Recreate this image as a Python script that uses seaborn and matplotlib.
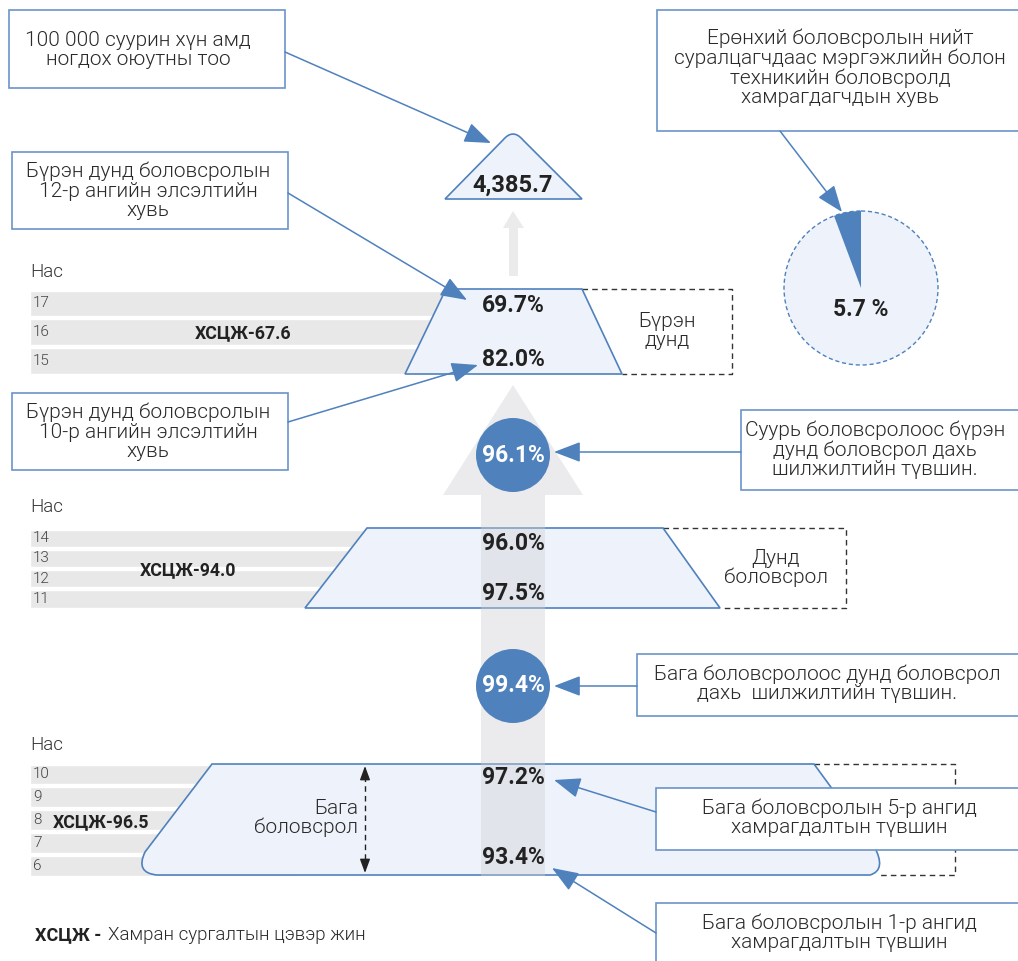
import matplotlib
matplotlib.use("Agg")
import matplotlib.pyplot as plt
import seaborn as sns
from matplotlib.patches import Polygon, Rectangle, Circle, Wedge, PathPatch
from matplotlib.path import Path

# --- DATA ---
ages_primary = ["10", "9", "8", "7", "6"]
ages_lower = ["14", "13", "12", "11"]
ages_upper = ["17", "16", "15"]
net_enrolment = [96.5, 94.0, 67.6]          # primary, lower sec, upper sec
primary_rates = [97.2, 93.4]                 # grade 5, grade 1
lower_rates = [96.0, 97.5]
upper_rates = [69.7, 82.0]                   # grade 12, grade 10
transition_rates = [99.4, 96.1]              # primary->lower, basic->upper
students_per_100k = 4385.7
tvet_share = 5.7
level_names = ["Бага\nболовсрол", "Дунд\nболовсрол", "Бүрэн\nдунд"]
callouts = [
    "100 000 суурин хүн амд\nногдох оюутны тоо",
    "Бүрэн дунд боловсролын\n12-р ангийн элсэлтийн\nхувь",
    "Бүрэн дунд боловсролын\n10-р ангийн элсэлтийн\nхувь",
    "Ерөнхий боловсролын нийт\nсуралцагчдаас мэргэжлийн болон\nтехникийн боловсролд\nхамрагдагчдын хувь",
    "Суурь боловсролоос бүрэн\nдунд боловсрол дахь\nшилжилтийн түвшин.",
    "Бага боловсролоос дунд боловсрол\nдахь  шилжилтийн түвшин.",
    "Бага боловсролын 5-р ангид\nхамрагдалтын түвшин",
    "Бага боловсролын 1-р ангид\nхамрагдалтын түвшин",
]

# --- STYLE ---
sns.set_theme(style="white")
plt.rcParams["font.family"] = ["Roboto", "DejaVu Sans"]
BLUE = "#4f81bd"
EDGE = "#6b93c9"
FILL = "#eef3fb"
BAR = "#e8e8e8"
TXT = "#222222"
LABEL = "#2a2a2a"
LIGHT = 300

fig = plt.figure(figsize=(10.18, 9.61), dpi=100)
ax = fig.add_axes([0, 0, 1, 1])
ax.set_xlim(0, 1018)
ax.set_ylim(961, 0)
ax.axis("off")


def age_rows(labels, top, bottom, right, title_y, net, net_xy):
    n = len(labels)
    h = (bottom - top) / n
    ys = [top + h * (i + 0.5) for i in range(n)]
    ax.barh(ys, [right - 30] * n, left=30, height=h - 3, color=BAR, zorder=1)
    for lab, y in zip(labels, ys):
        ax.text(33, y, lab, fontsize=11, color="#444444", va="center",
                ha="left", fontweight=LIGHT, zorder=5)
    ax.text(30, title_y, "Нас", fontsize=13.5, color="#333333", va="center",
            fontweight=LIGHT)
    ax.text(net_xy[0], net_xy[1], f"ХСЦЖ-{net:.1f}", fontsize=12.8,
            fontweight="bold", color=TXT, va="center", ha="center", zorder=5)


def dashed(pts):
    xs, ys = zip(*pts)
    ax.plot(xs, ys, ls=(0, (4, 3)), color="#333333", lw=1, zorder=2)


def callout(text, box, text_xy, start, end):
    x0, y0, x1, y1 = box
    ax.add_patch(Rectangle((x0, y0), x1 - x0, y1 - y0, fc="white", ec=EDGE,
                           lw=1.2, zorder=6))
    ax.text(text_xy[0], text_xy[1], text, fontsize=15, ha="center",
            va="center", color=LABEL, linespacing=1.03,
            fontweight=LIGHT, zorder=7)
    ax.annotate("", xy=end, xytext=start, zorder=8,
                arrowprops=dict(arrowstyle="-|>,head_length=1.1,head_width=0.42",
                                color=BLUE, lw=1.1, mutation_scale=15,
                                shrinkA=0, shrinkB=0))


# age strips
age_rows(ages_upper, 289, 375, 480, 272, net_enrolment[2], (243, 333))
age_rows(ages_lower, 528, 609, 420, 507, net_enrolment[1], (188, 570))
age_rows(ages_primary, 763, 877, 300, 745, net_enrolment[0], (101, 822))

# top triangle with rounded apex
tri = Path([(445, 199), (503, 140), (513, 128), (523, 140), (582, 199), (445, 199)],
           [Path.MOVETO, Path.LINETO, Path.CURVE3, Path.CURVE3, Path.LINETO,
            Path.CLOSEPOLY])
ax.add_patch(PathPatch(tri, fc=FILL, ec=BLUE, lw=1.2, zorder=3))
ax.text(513, 185, f"{students_per_100k:,.1f}", fontsize=17, fontweight="bold",
        ha="center", va="center", color=TXT, zorder=5)

# small gray arrow between triangle and upper trapezoid
ax.add_patch(Polygon([(513, 211), (524, 228), (518, 228), (518, 276), (509, 276),
                      (509, 228), (503, 228)], closed=True, fc="#ebebeb",
                     ec="none", zorder=2))

# upper secondary trapezoid
ax.add_patch(Polygon([(446, 289), (582, 289), (622, 374), (405, 374)], closed=True,
                     fc=FILL, ec=BLUE, lw=1.2, zorder=3))
dashed([(582, 289), (732, 289), (732, 374), (622, 374)])
ax.text(667, 331, level_names[2], fontsize=15, ha="center", va="center",
        color=LABEL, linespacing=1.03, fontweight=LIGHT)

# big gray arrow (shaft passes through the lower shapes)
ax.add_patch(Polygon([(513, 385), (583, 495), (545, 495), (545, 876), (481, 876),
                      (481, 495), (443, 495)], closed=True, fc="#cfcfd4",
                     alpha=0.4, ec="none", zorder=4))

# lower secondary trapezoid
ax.add_patch(Polygon([(367, 528), (663, 528), (720, 608), (305, 608)], closed=True,
                     fc=FILL, ec=BLUE, lw=1.2, zorder=3))
dashed([(663, 528), (846, 528), (846, 608), (720, 608)])
ax.text(776, 568, level_names[1], fontsize=15, ha="center", va="center",
        color=LABEL, linespacing=1.03, fontweight=LIGHT)

# primary shape with rounded ends
verts = [(212, 764), (814, 764), (874, 846), (887, 870), (870, 875),
         (157, 875), (135, 873), (145, 852), (212, 764)]
codes = [Path.MOVETO, Path.LINETO, Path.LINETO, Path.CURVE3, Path.CURVE3,
         Path.LINETO, Path.CURVE3, Path.CURVE3, Path.CLOSEPOLY]
ax.add_patch(PathPatch(Path(verts, codes), fc=FILL, ec=BLUE, lw=1.2, zorder=3))
dashed([(814, 764), (955, 764), (955, 875), (878, 875)])
ax.text(358, 818, level_names[0], fontsize=15, ha="right", va="center",
        color=LABEL, linespacing=1.03, fontweight=LIGHT, zorder=5)
ax.plot([365, 365], [776, 862], ls=(0, (4, 3)), color=TXT, lw=1, zorder=5)
for a, b in [((365, 766), (365, 778)), ((365, 873), (365, 861))]:
    ax.annotate("", xy=a, xytext=b, zorder=5,
                arrowprops=dict(arrowstyle="-|>,head_length=0.6,head_width=0.22",
                                color=TXT, lw=1, mutation_scale=14,
                                shrinkA=0, shrinkB=0))

# percentages on shapes
for vals, ys in [(upper_rates, [305, 360]), (lower_rates, [543, 593]),
                 (primary_rates, [777, 857])]:
    for val, y in zip(vals, ys):
        ax.text(513, y, f"{val:.1f}%", fontsize=16.5, fontweight="bold",
                ha="center", va="center", color=TXT, zorder=6)

# transition circles
for val, y in zip(transition_rates, [686, 455]):
    ax.add_patch(Circle((513, y), 37, fc=BLUE, ec="none", zorder=6))
    ax.text(513, y, f"{val:.1f}%", fontsize=16.5, fontweight="bold", ha="center",
            va="center", color="white", zorder=7)

# TVET share pie
cx, cy, r = 861, 288, 77
ax.add_patch(Circle((cx, cy), r, fc=FILL, ec=BLUE, lw=1, ls=(0, (3, 2)), zorder=3))
ang = tvet_share / 100 * 360
ax.add_patch(Wedge((cx, cy), r, 270 - ang, 270, fc=BLUE, ec="none", zorder=4))
ax.text(cx, 310, f"{tvet_share} %", fontsize=16.5, fontweight="bold", ha="center",
        va="center", color=TXT, zorder=5)

# callout boxes
callout(callouts[0], (9, 10, 285, 88), (138, 50), (285, 52), (491, 143))
callout(callouts[1], (12, 152, 288, 229), (148, 191), (288, 193), (467, 300))
callout(callouts[2], (12, 393, 288, 470), (148, 432), (288, 422), (478, 365))
callout(callouts[3], (657, 10, 1030, 131), (840, 68), (780, 131), (842, 212))
callout(callouts[4], (741, 410, 1030, 490), (875, 450), (741, 452), (554, 452))
callout(callouts[5], (637, 654, 1030, 716), (827, 684), (637, 686), (554, 686))
callout(callouts[6], (656, 788, 1030, 850), (839, 818), (656, 812), (554, 780))
callout(callouts[7], (656, 903, 1030, 975), (839, 933), (656, 933), (552, 868))

# footnote
ax.text(35, 935, "ХСЦЖ -", fontsize=13, fontweight="bold", color=TXT, va="center")
ax.text(108, 935, "Хамран сургалтын цэвэр жин", fontsize=13.5, color=LABEL,
        va="center", fontweight=LIGHT)

fig.savefig("out.png", dpi=100)
